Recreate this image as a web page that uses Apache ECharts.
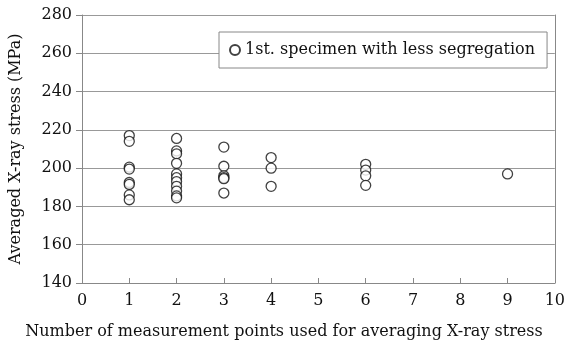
<!DOCTYPE html>
<html>
<head>
<meta charset="utf-8">
<script src="https://cdn.jsdelivr.net/npm/echarts@6/dist/echarts.min.js"></script>
<style>
  html, body { margin: 0; padding: 0; background: #fff; }
  #chart { width: 568px; height: 345px; }
</style>
</head>
<body>
<div id="chart"></div>
<script>
// averaged stress (MPa), grouped by number of points
const pts1 = [217, 214, 200.5, 199.5, 192.5, 191.5, 186, 183.5];
const pts2 = [215.5, 209, 207.5, 202.5, 197, 195, 193, 190.5, 188, 185.5, 184.5];
const pts3 = [211, 201, 196, 195, 194.5, 187];
const pts4 = [205.5, 200, 190.5];
const pts6 = [202, 199, 196, 191];
const pts9 = [197];
const groups = [[1, pts1], [2, pts2], [3, pts3], [4, pts4], [6, pts6], [9, pts9]];
const seriesName = '1st. specimen with less segregation';
const xTitle = 'Number of measurement points used for averaging X-ray stress';

const data = [];
groups.forEach(([n, vals]) => vals.forEach((v) => data.push([n, v])));

const font = '"DejaVu Serif", "Liberation Serif", serif';
const chart = echarts.init(document.getElementById('chart'));

chart.setOption({
  animation: false,
  backgroundColor: '#fff',
  textStyle: { fontFamily: font },
  // x title is centred on the whole picture, not on the plot
  title: {
    text: xTitle,
    left: 'center',
    top: 324,
    padding: 0,
    textStyle: { fontFamily: font, fontSize: 16, fontWeight: 'normal', color: '#111' },
  },
  grid: { left: 82, right: 11, top: 15, bottom: 62 },
  legend: {
    data: [seriesName],
    left: 219,
    top: 32,
    padding: [10, 12, 10, 10],
    backgroundColor: '#fff',
    borderColor: '#888',
    borderWidth: 1,
    itemWidth: 10,
    itemHeight: 10,
    itemGap: 6,
    textStyle: { fontFamily: font, fontSize: 16, color: '#111' },
  },
  xAxis: {
    type: 'value',
    min: 0,
    max: 10,
    interval: 1,
    axisLine: { lineStyle: { color: '#888' } },
    axisTick: { show: true, inside: true, length: 5, lineStyle: { color: '#888' } },
    axisLabel: { fontFamily: font, fontSize: 16, color: '#111', margin: 10 },
    splitLine: { show: false },
  },
  yAxis: [
    {
      type: 'value',
      min: 140,
      max: 280,
      interval: 20,
      name: 'Averaged X-ray stress (MPa)',
      nameLocation: 'middle',
      nameGap: 58,
      nameTextStyle: { fontFamily: font, fontSize: 16, color: '#111' },
      axisLine: { show: true, lineStyle: { color: '#888' } },
      axisTick: { show: true, length: 6, lineStyle: { color: '#888' } },
      axisLabel: { fontFamily: font, fontSize: 16, color: '#111', margin: 10 },
      splitLine: { show: true, lineStyle: { color: '#999', width: 1 } },
    },
    {
      type: 'value',
      min: 140,
      max: 280,
      position: 'right',
      axisLine: { show: true, lineStyle: { color: '#888' } },
      axisTick: { show: false },
      axisLabel: { show: false },
      splitLine: { show: false },
    },
  ],
  series: [
    {
      name: seriesName,
      type: 'scatter',
      data: data,
      symbol: 'circle',
      symbolSize: 10,
      itemStyle: { color: '#fff', borderColor: '#111', borderWidth: 1.3 },
      z: 3,
    },
  ],
});
</script>
</body>
</html>
